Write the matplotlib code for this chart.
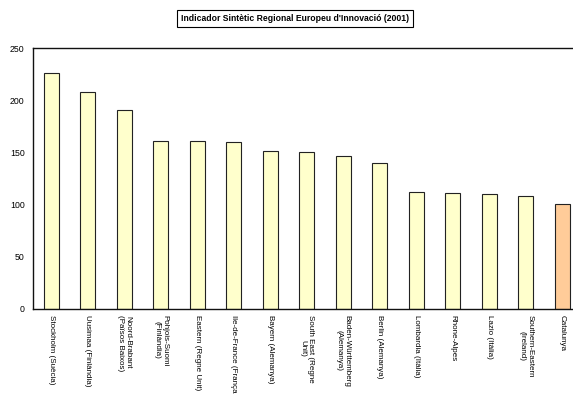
import numpy as np
from matplotlib import pyplot as plt

plt.rcParams['font.family'] = ['Liberation Sans', 'DejaVu Sans']

regions = ['Stockholm (Suècia)', 'Uusimaa (Finlàndia)', 'Noord-Brabant\n(Països Baixos)',
           'Pohjois-Suomi\n(Finlàndia)', 'Eastern (Regne Unit)', 'Ile-de-France (França',
           'Bayern (Alemanya)', 'South East (Regne\nUnit)', 'Baden-Württemberg\n(Alemanya)',
           'Berlin (Alemanya)', 'Lombardia (Itàlia)', 'Rhone-Alpes', 'Lazio (Itàlia)',
           'Southern-Eastern\n(Ireland)', 'Catalunya']
values = [226, 207.5, 191, 161, 161, 159.5, 151, 150, 146.5, 140, 112, 111, 110, 108.5, 101]
yticks = [0, 50, 100, 150, 200, 250]

colors = ['#ffffcc'] * (len(regions) - 1) + ['#ffcc99']

fig = plt.figure(figsize=(5.73, 4.01), dpi=100)
ax = fig.add_axes([33 / 573, 92 / 401, 1 - 33 / 573, 261 / 401])

x = np.arange(len(regions))
ax.bar(x, values, width=0.41, color=colors, edgecolor='#222222', linewidth=0.8)

ax.set_xlim(-0.5, 14.29)
ax.set_ylim(0, 250)
ax.set_yticks(yticks)
ax.set_yticklabels([str(t) for t in yticks], fontsize=6.3)
ax.set_xticks(x)
ax.set_xticklabels(regions, rotation=270, fontsize=5.8, va='top', ha='center',
                   multialignment='center')
ax.tick_params(axis='x', length=0, pad=4)
ax.tick_params(axis='y', length=0, pad=6)
ax.spines['right'].set_visible(False)
for s in ['left', 'top', 'bottom']:
    ax.spines[s].set_linewidth(1.0)
    ax.spines[s].set_color('#111111')

fig.text(0.515, 0.954, "Indicador Sintètic Regional Europeu d'Innovació (2001)",
         fontsize=6.2, fontweight='bold', ha='center', va='center',
         bbox=dict(facecolor='white', edgecolor='black', linewidth=0.8, pad=3))

fig.savefig('out.png', dpi=100)
